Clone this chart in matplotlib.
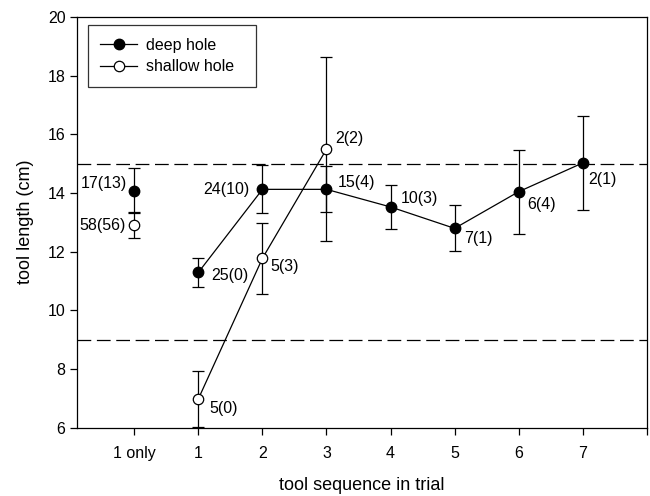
import numpy as np
import matplotlib.pyplot as plt

plt.rcParams['font.family'] = ['Liberation Sans', 'DejaVu Sans']

# x positions: 0 = "1 only", 1..7 = tool sequence
tick_labels = ['1 only', '1', '2', '3', '4', '5', '6', '7']

# deep hole
deep_x = [1, 2, 3, 4, 5, 6, 7]
deep_y = [11.29, 14.12, 14.12, 13.52, 12.79, 14.04, 15.02]
deep_err = [0.50, 0.82, 0.78, 0.76, 0.78, 1.43, 1.60]
deep_n = ['25(0)', '24(10)', '15(4)', '10(3)', '7(1)', '6(4)', '2(1)']

# shallow hole
shallow_x = [1, 2, 3]
shallow_y = [6.98, 11.77, 15.49]
shallow_err = [0.96, 1.22, 3.13]
shallow_n = ['5(0)', '5(3)', '2(2)']

# "1 only" trials
only_deep_y, only_deep_err, only_deep_n = 14.07, 0.77, '17(13)'
only_shallow_y, only_shallow_err, only_shallow_n = 12.90, 0.44, '58(56)'

# reference lines
ref_lines = [15, 9]

# label offsets (points)
deep_off = [(9, -2, 'left'), (-9, 0, 'right'), (8, 5, 'left'), (7, 6, 'left'),
             (7, -7, 'left'), (6, -9, 'left'), (4, -12, 'left')]
shallow_off = [(8, -7, 'left'), (6, -6, 'left'), (6, 8, 'left')]

fig = plt.figure(figsize=(6.5, 4.96), dpi=100)
ax = fig.add_axes([0.118, 0.138, 0.877, 0.828])

for y in ref_lines:
    ax.axhline(y, color='black', lw=0.9, dashes=(11, 4.5), zorder=1)

ekw = dict(fmt='none', ecolor='black', elinewidth=0.9, capsize=4, capthick=0.9, zorder=2)
ax.errorbar(deep_x, deep_y, yerr=deep_err, **ekw)
ax.errorbar(shallow_x, shallow_y, yerr=shallow_err, **ekw)
ax.errorbar([0, 0], [only_deep_y, only_shallow_y], yerr=[only_deep_err, only_shallow_err], **ekw)

ax.plot(deep_x, deep_y, '-o', color='black', lw=0.9, ms=7.5, mfc='black', mec='black',
        label='deep hole', zorder=3)
ax.plot(shallow_x, shallow_y, '-o', color='black', lw=0.9, ms=7.5, mfc='white', mec='black',
        mew=0.9, label='shallow hole', zorder=3)
ax.plot([0], [only_deep_y], 'o', ms=7.5, mfc='black', mec='black', zorder=3)
ax.plot([0], [only_shallow_y], 'o', ms=7.5, mfc='white', mec='black', mew=0.9, zorder=3)

fs = 11.5
for x, y, t, (dx, dy, ha) in zip(deep_x, deep_y, deep_n, deep_off):
    ax.annotate(t, (x, y), xytext=(dx, dy), textcoords='offset points', ha=ha, va='center', fontsize=fs)
for x, y, t, (dx, dy, ha) in zip(shallow_x, shallow_y, shallow_n, shallow_off):
    ax.annotate(t, (x, y), xytext=(dx, dy), textcoords='offset points', ha=ha, va='center', fontsize=fs)
ax.annotate(only_deep_n, (0, only_deep_y), xytext=(-5, 5), textcoords='offset points',
            ha='right', va='center', fontsize=fs)
ax.annotate(only_shallow_n, (0, only_shallow_y), xytext=(-6, 0), textcoords='offset points',
            ha='right', va='center', fontsize=fs)

ax.set_xlim(-0.9, 8.0)
ax.set_ylim(6, 20)
ax.set_xticks(range(9))
ax.set_xticklabels(tick_labels + [''])
ax.set_yticks(range(6, 21, 2))
ax.tick_params(direction='out', length=5, width=0.9, labelsize=fs)
ax.tick_params(axis='x', pad=8)
ax.tick_params(axis='y', pad=3)
for s in ax.spines.values():
    s.set_linewidth(0.9)

ax.set_xlabel('tool sequence in trial', fontsize=13, labelpad=12)
ax.set_ylabel('tool length (cm)', fontsize=13, labelpad=10)

leg = ax.legend(loc='upper left', bbox_to_anchor=(0.019, 0.98), fontsize=fs, frameon=True,
                fancybox=False, edgecolor='black', handlelength=2.3, borderpad=0.8,
                labelspacing=0.4, handletextpad=0.55, borderaxespad=0)
leg.get_frame().set_linewidth(0.9)
# a bit more room on the right of the legend text, as in the original
for t in leg.get_texts():
    t.set_text(t.get_text() + '  ')

fig.savefig('out.png', dpi=100)
